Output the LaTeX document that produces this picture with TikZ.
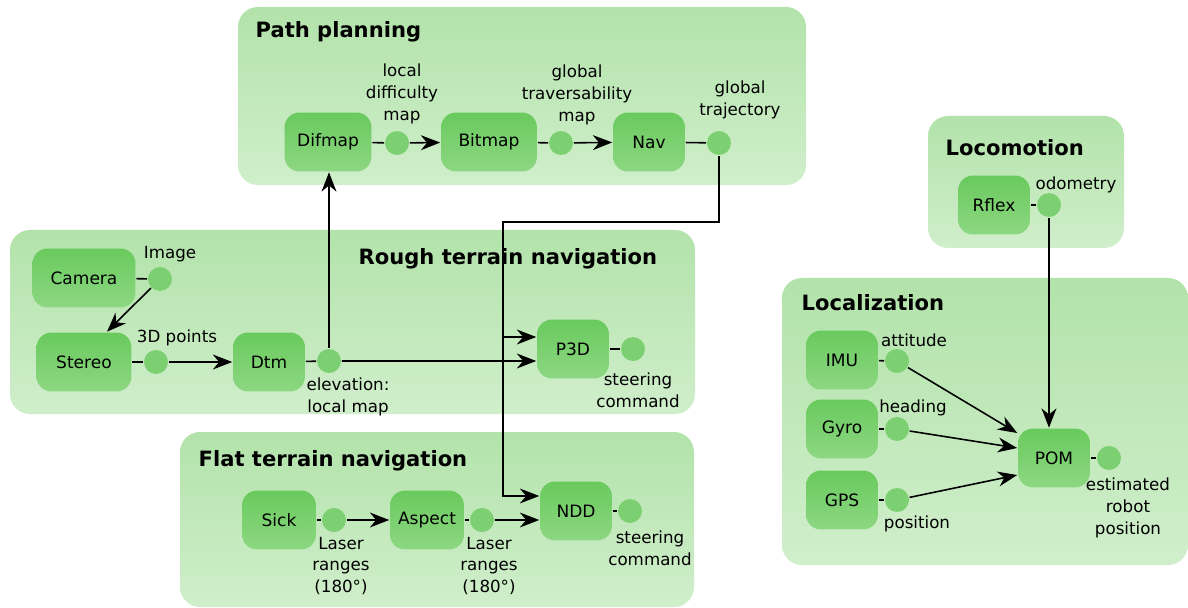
\documentclass[tikz,border=0pt]{standalone}
\usepackage{fontspec}
\setmainfont{DejaVu Sans}
\usetikzlibrary{arrows.meta,positioning}

\definecolor{groupTop}{HTML}{B2E3AA}
\definecolor{groupBot}{HTML}{D0EECB}
\definecolor{modTop}{HTML}{69CA5D}
\definecolor{modBot}{HTML}{8DD782}
\definecolor{portFill}{HTML}{7DD071}

\begin{document}
\begin{tikzpicture}[x=0.02cm, y=-0.02cm, line width=0.9pt,
    >={Stealth[length=11pt,width=8.5pt,inset=3.5pt]},
    group/.style={rounded corners=0.4cm, top color=groupTop, bottom color=groupBot},
    module/.style={rectangle, rounded corners=0.3cm, top color=modTop, bottom color=modBot,
      minimum width=1.44cm, minimum height=1.18cm, font=\fontsize{9.7}{11}\selectfont},
    port/.style={circle, fill=portFill, minimum size=0.48cm, inner sep=0pt},
    title/.style={anchor=west, font=\fontsize{12}{14}\selectfont\bfseries},
    data/.style={align=center, inner sep=1pt, font=\fontsize{9.5}{12.3}\selectfont}]
    \useasboundingbox (0,0) rectangle (1188,608);

    % groups
    \shade[group] (238,7) rectangle (806,185);
    \shade[group] (10,230) rectangle (695,414);
    \shade[group] (180,432) rectangle (694,607);
    \shade[group] (928,116) rectangle (1124,248);
    \shade[group] (782,278) rectangle (1188,565);

    \node[title] (pptitle) at (249,32) {Path planning};
    \node[title] (rtitle) at (352,259) {Rough terrain navigation};
    \node[title] (ftitle) at (192,461) {Flat terrain navigation};
    \node[title] (lotitle) at (939,148) {Locomotion};
    \node[title] (latitle) at (795,303) {Localization};

    % path planning
    \node[module, minimum width=1.74cm] (difmap) at (328,142) {Difmap};
    \node[module, minimum width=1.92cm] (bitmap) at (489,142) {Bitmap};
    \node[module] (nav) at (649,142) {Nav};
    \node[port] (difmapout) at (397,143) {};
    \node[port] (bitmapout) at (561,143) {};
    \node[port] (navout) at (719,143) {};
    \node[data] (difmaptxt) at (402,94) {local\\difficulty\\map};
    \node[data] (bitmaptxt) at (577,95) {global\\traversability\\map};
    \node[data] (navtxt) at (740,100) {global\\trajectory};

    % rough terrain
    \node[module, minimum width=2.06cm] (camera) at (84,278) {Camera};
    \node[module, minimum width=1.9cm] (stereo) at (84,362) {Stereo};
    \node[module] (dtm) at (269,362) {Dtm};
    \node[module] (p3d) at (573,349) {P3D};
    \node[port] (image) at (160,279) {};
    \node[port] (points) at (156,362) {};
    \node[port] (elevation) at (329,361) {};
    \node[port] (p3dout) at (633,349) {};
    \node[data] (imagetxt) at (170,254) {Image};
    \node[data] (pointstxt) at (177,338) {3D points};
    \node[data] (elevationtxt) at (348,397) {elevation:\\local map};
    \node[data] (p3dtxt) at (638,390) {steering\\command};

    % flat terrain
    \node[module, minimum width=1.48cm] (sick) at (279,520) {Sick};
    \node[module, minimum width=1.48cm] (aspect) at (427,520) {Aspect};
    \node[module] (ndd) at (576,511) {NDD};
    \node[port] (sickout) at (334,520) {};
    \node[port] (aspectout) at (482,520) {};
    \node[port] (nddout) at (630,511) {};
    \node[data] (sicktxt) at (341,566) {Laser\\ranges\\(180°)};
    \node[data] (aspecttxt) at (489,566) {Laser\\ranges\\(180°)};
    \node[data] (nddtxt) at (650,548) {steering\\command};

    % locomotion
    \node[module] (rflex) at (994,205) {Rflex};
    \node[port] (rflexout) at (1049,205) {};
    \node[data] (rflextxt) at (1076,185) {odometry};

    % localization
    \node[module] (imu) at (842,360) {IMU};
    \node[module] (gyro) at (842,429) {Gyro};
    \node[module] (gps) at (842,500) {GPS};
    \node[module] (pom) at (1054,458) {POM};
    \node[port] (imuout) at (897,361) {};
    \node[port] (gyroout) at (897,429) {};
    \node[port] (gpsout) at (897,500) {};
    \node[port] (pomout) at (1109,458) {};
    \node[data] (imutxt) at (914,340) {attitude};
    \node[data] (gyrotxt) at (913,408) {heading};
    \node[data] (gpstxt) at (917,524) {position};
    \node[data] (pomtxt) at (1128,508) {estimated\\robot\\position};

    \coordinate (turn) at (503,222);
    \coordinate (p3dtop) at ([yshift=0.24cm]p3d.west);
    \coordinate (p3dlow) at ([yshift=-0.24cm]p3d.west);
    \coordinate (nddtop) at ([yshift=0.3cm]ndd.west);
    \coordinate (nddlow) at ([yshift=-0.18cm]ndd.west);

    % connections
    \draw (difmap) -- (difmapout);
    \draw[->] (difmapout) -- (bitmap);
    \draw (bitmap) -- (bitmapout);
    \draw[->] (bitmapout) -- (nav);
    \draw (nav) -- (navout);
    \draw[->] (navout) |- (turn) |- (nddtop);
    \draw[->] (turn |- p3dtop) -- (p3dtop);

    \draw (camera) -- (image);
    \draw[->] (image) -- ([xshift=0.46cm]stereo.north);
    \draw (stereo) -- (points);
    \draw[->] (points) -- (dtm);
    \draw (dtm) -- (elevation);
    \draw[->] (elevation) -- (p3dlow);
    \draw[->] (elevation) -- (elevation |- difmap.south);
    \draw (p3d) -- (p3dout);

    \draw (sick) -- (sickout);
    \draw[->] (sickout) -- (aspect);
    \draw (aspect) -- (aspectout);
    \draw[->] (aspectout) -- (nddlow);
    \draw (ndd) -- (nddout);

    \draw (rflex) -- (rflexout);
    \draw[->] (rflexout) -- (rflexout |- pom.north);
    \draw (imu) -- (imuout);
    \draw[->] (imuout) -- ([yshift=0.5cm]pom.west);
    \draw (gyro) -- (gyroout);
    \draw[->] (gyroout) -- ([yshift=0.2cm]pom.west);
    \draw (gps) -- (gpsout);
    \draw[->] (gpsout) -- ([yshift=-0.34cm]pom.west);
    \draw (pom) -- (pomout);
\end{tikzpicture}
\end{document}
